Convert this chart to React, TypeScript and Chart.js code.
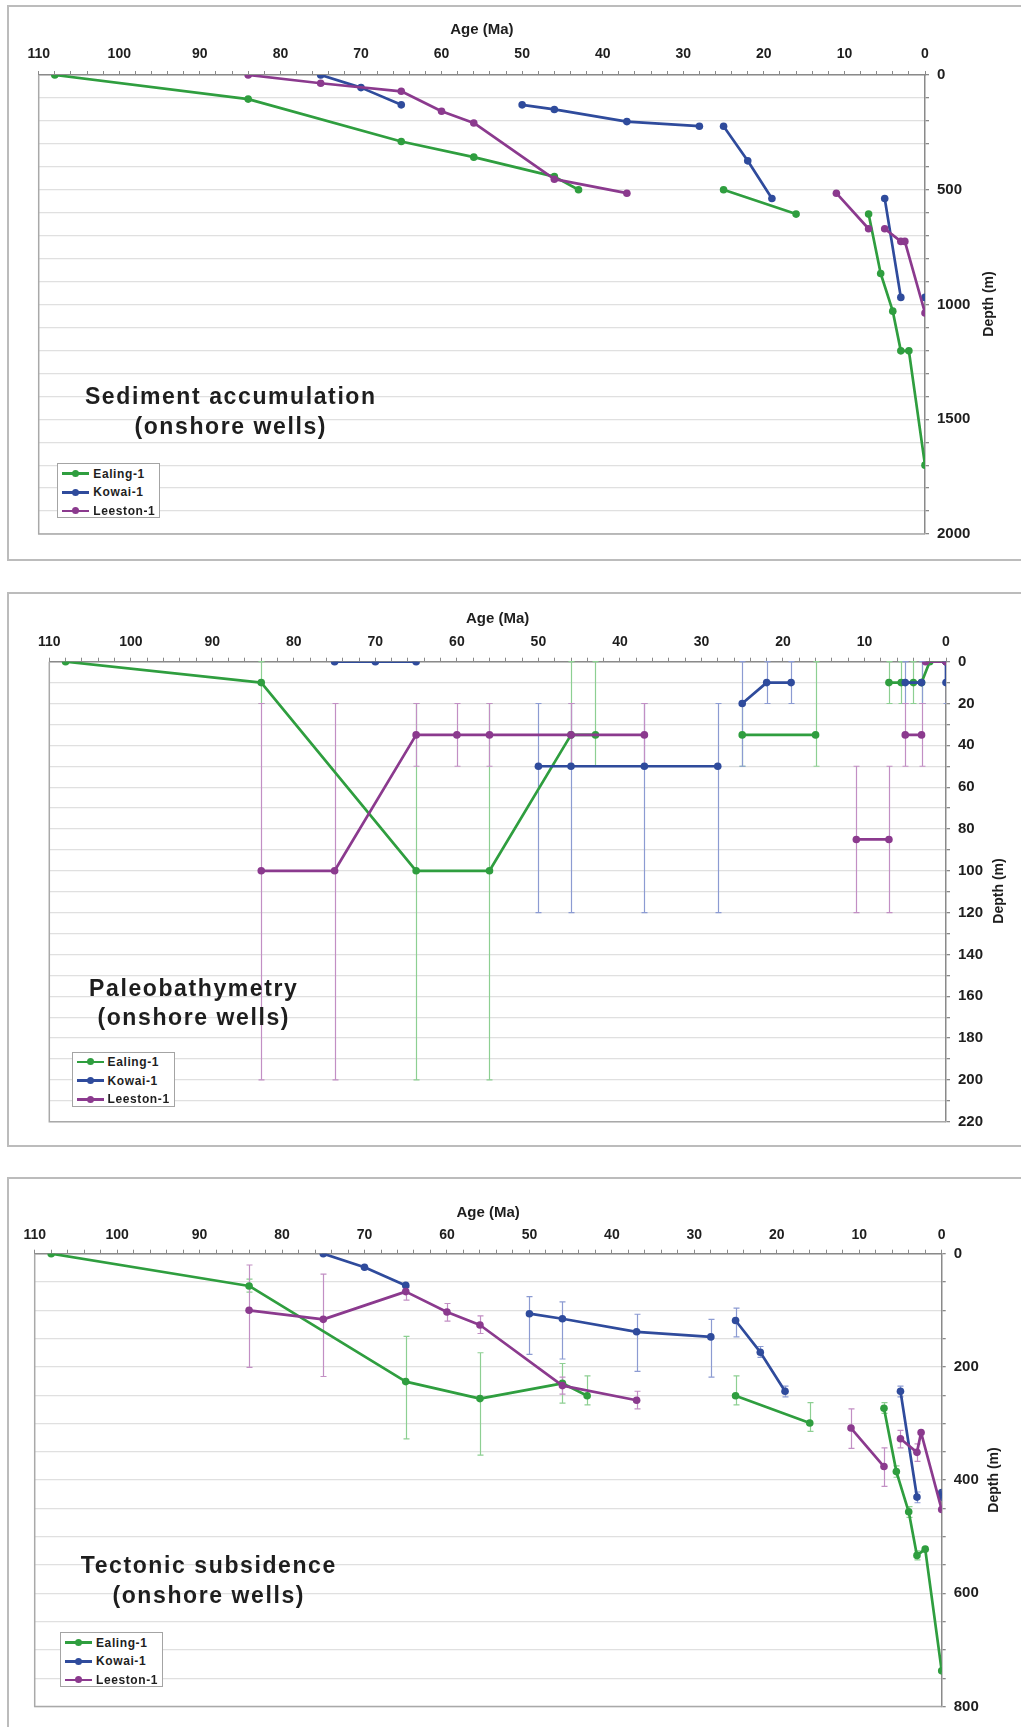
import React, { useEffect, useRef } from "react";
import { Chart, registerables } from "chart.js";

Chart.register(...registerables);

// ---------------- DATA ----------------
const seriesNames = ["Ealing-1", "Kowai-1", "Leeston-1"];

// Sediment accumulation (depth, m)
const sedEalingAge = [108, 84, 65, 56, 46, 43, null, 25, 16, null, 7, 5.5, 4, 3, 2, 0];
const sedEalingDepth = [0, 105, 290, 358, 443, 500, null, 500, 606, null, 606, 865, 1029, 1202, 1202, 1700];
const sedKowaiAge = [75, 70, 65, null, 50, 46, 37, 28, null, 25, 22, 19, null, 5, 3, null, 0];
const sedKowaiDepth = [0, 55, 130, null, 130, 150, 203, 223, null, 223, 374, 538, null, 538, 969, null, 969];
const sedLeestonAge = [84, 75, 65, 60, 56, 46, 37, null, 11, 7, null, 5, 3, 2.5, 0];
const sedLeestonDepth = [0, 36, 71, 158, 209, 454, 515, null, 515, 670, null, 670, 725, 725, 1037];

// Paleobathymetry (depth, m) with ranges
const pbEalingAge = [108, 84, 65, 56, 46, 43, null, 25, 16, null, 7, 5.5, 4, 3, 2, 0];
const pbEalingDepth = [0, 10, 100, 100, 35, 35, null, 35, 35, null, 10, 10, 10, 10, 0, 0];
const pbEalingLow = [null, 0, 20, 20, 0, 0, null, 20, 0, null, 0, 0, 0, 0, null, null];
const pbEalingHigh = [null, 20, 200, 200, 50, 50, null, 50, 50, null, 20, 20, 20, 20, null, null];
const pbKowaiAge = [75, 70, 65, null, 50, 46, 37, 28, null, 25, 22, 19, null, 5, 3, null, 0, 0];
const pbKowaiDepth = [0, 0, 0, null, 50, 50, 50, 50, null, 20, 10, 10, null, 10, 10, null, 0, 10];
const pbKowaiLow = [null, null, null, null, 20, 20, 20, 20, null, 0, 0, 0, null, 0, 0, null, null, 0];
const pbKowaiHigh = [null, null, null, null, 120, 120, 120, 120, null, 50, 20, 20, null, 20, 20, null, null, 20];
const pbLeestonAge = [84, 75, 65, 60, 56, 46, 37, null, 11, 7, null, 5, 3, null, 2.5, 0];
const pbLeestonDepth = [100, 100, 35, 35, 35, 35, 35, null, 85, 85, null, 35, 35, null, 0, 0];
const pbLeestonLow = [20, 20, 20, 20, 20, 20, 20, null, 50, 50, null, 20, 20, null, null, null];
const pbLeestonHigh = [200, 200, 50, 50, 50, 50, 50, null, 120, 120, null, 50, 50, null, null, null];

// Tectonic subsidence (depth, m) with ranges
const tsEalingAge = [108, 84, 65, 56, 46, 43, null, 25, 16, null, 7, 5.5, 4, 3, 2, 0];
const tsEalingDepth = [0, 57, 226, 256, 229, 251, null, 251, 299, null, 273, 385, 456, 533, 522, 737];
const tsEalingLow = [null, 45, 146, 175, 194, 216, null, 216, 263, null, 263, 375, 447, 525, null, null];
const tsEalingHigh = [null, 68, 327, 356, 264, 267, null, 267, 314, null, 282, 395, 466, 541, null, null];
const tsKowaiAge = [75, 70, 65, null, 50, 46, 37, 28, null, 25, 22, 19, null, 5, 3, null, 0, 0];
const tsKowaiDepth = [0, 24, 56, null, 106, 115, 138, 147, null, 118, 174, 243, null, 243, 430, null, 422, 430];
const tsKowaiLow = [null, null, null, null, 76, 85, 107, 116, null, 96, 164, 234, null, 234, 421, null, null, null];
const tsKowaiHigh = [null, null, null, null, 178, 186, 208, 218, null, 147, 183, 253, null, 253, 440, null, null, null];
const tsLeestonAge = [84, 75, 65, 60, 56, 46, 37, null, 11, 7, null, 5, 3, 2.5, 0];
const tsLeestonDepth = [100, 116, 67, 103, 126, 233, 259, null, 308, 376, null, 327, 351, 316, 452];
const tsLeestonLow = [20, 36, 59, 88, 110, 218, 243, null, 274, 343, null, 312, 336, null, null];
const tsLeestonHigh = [201, 217, 82, 119, 141, 248, 274, null, 344, 411, null, 343, 367, null, null];

const panelTitles = [
  ["Sediment accumulation", "(onshore wells)"],
  ["Paleobathymetry", "(onshore wells)"],
  ["Tectonic subsidence", "(onshore wells)"],
];
const xAxisTitle = "Age (Ma)";
const yAxisTitle = "Depth (m)";

// ---------------- STYLE ----------------
const FONT = '"Liberation Sans", Arial, Helvetica, sans-serif';
const COLORS = ["#2f9e3f", "#2f4b9c", "#8b3a8e"];
const ERR_COLORS = ["#8dcf92", "#8c9bd2", "#c28fc4"];
const TEXT = "#1e1e1e";

const zip = (a: (number | null)[], d: (number | null)[]) =>
  a.map((x, i) => ({ x: x, y: d[i] }));

const framePlugin = {
  id: "frame",
  beforeDatasetsDraw(chart: any) {
    const { ctx, chartArea } = chart;
    const { left, top, right, bottom } = chartArea;
    ctx.save();
    ctx.strokeStyle = "#a9a9a9";
    ctx.lineWidth = 1.5;
    ctx.beginPath();
    ctx.moveTo(left, top);
    ctx.lineTo(left, bottom);
    ctx.lineTo(right, bottom);
    ctx.stroke();
    ctx.restore();
  },
};

const errorBarPlugin = {
  id: "errorBars",
  beforeDatasetsDraw(chart: any) {
    const { ctx, chartArea } = chart;
    const xs = chart.scales.x;
    const ys = chart.scales.y;
    ctx.save();
    ctx.beginPath();
    ctx.rect(chartArea.left, chartArea.top - 2, chartArea.width, chartArea.height + 4);
    ctx.clip();
    const sets = chart.data.datasets.slice().reverse();
    sets.forEach((ds: any) => {
      const lo = ds.errLow;
      const hi = ds.errHigh;
      if (!lo || !hi) return;
      ctx.strokeStyle = ds.errColor;
      ctx.lineWidth = 1.2;
      ds.data.forEach((p: any, j: number) => {
        if (p.y == null || lo[j] == null || hi[j] == null) return;
        const px = Math.round(xs.getPixelForValue(p.x)) + 0.5;
        const y1 = ys.getPixelForValue(lo[j]);
        const y2 = ys.getPixelForValue(hi[j]);
        ctx.beginPath();
        ctx.moveTo(px, y1);
        ctx.lineTo(px, y2);
        ctx.moveTo(px - 3, y1);
        ctx.lineTo(px + 3, y1);
        ctx.moveTo(px - 3, y2);
        ctx.lineTo(px + 3, y2);
        ctx.stroke();
      });
    });
    ctx.restore();
  },
};

type PanelCfg = {
  top: number;
  height: number;
  padding: { left: number; top: number; right: number; bottom: number };
  xH: number;
  yW: number;
  xPad: number;
  titlePad: number;
  yMax: number;
  yStep: number;
  yLabel: number;
  series: any[];
};

const panels: PanelCfg[] = [
  {
    top: 0,
    height: 575,
    padding: { left: 38.7, top: 20, right: 0, bottom: 41 },
    xH: 55,
    yW: 96,
    xPad: 8,
    titlePad: 1,
    yMax: 2000,
    yStep: 100,
    yLabel: 500,
    series: [
      { age: sedEalingAge, depth: sedEalingDepth },
      { age: sedKowaiAge, depth: sedKowaiDepth },
      { age: sedLeestonAge, depth: sedLeestonDepth },
    ],
  },
  {
    top: 580,
    height: 580,
    padding: { left: 49.3, top: 26.7, right: 0, bottom: 38.3 },
    xH: 55,
    yW: 75,
    xPad: 7.6,
    titlePad: 3.6,
    yMax: 220,
    yStep: 10,
    yLabel: 20,
    series: [
      { age: pbEalingAge, depth: pbEalingDepth, low: pbEalingLow, high: pbEalingHigh },
      { age: pbKowaiAge, depth: pbKowaiDepth, low: pbKowaiLow, high: pbKowaiHigh },
      { age: pbLeestonAge, depth: pbLeestonDepth, low: pbLeestonLow, high: pbLeestonHigh },
    ],
  },
  {
    top: 1160,
    height: 567,
    padding: { left: 34.7, top: 38.7, right: 0, bottom: 20.5 },
    xH: 55,
    yW: 79.3,
    xPad: 6,
    titlePad: 4.7,
    yMax: 800,
    yStep: 50,
    yLabel: 200,
    series: [
      { age: tsEalingAge, depth: tsEalingDepth, low: tsEalingLow, high: tsEalingHigh },
      { age: tsKowaiAge, depth: tsKowaiDepth, low: tsKowaiLow, high: tsKowaiHigh },
      { age: tsLeestonAge, depth: tsLeestonDepth, low: tsLeestonLow, high: tsLeestonHigh },
    ],
  },
];

// HTML overlay positions
const boxes = [
  { left: 7, top: 5, height: 556, bottom: true },
  { left: 7, top: 591.7, height: 555, bottom: true },
  { left: 7, top: 1177, height: 600, bottom: false },
];
const titlePos = [
  { cx: 230, top: 382 },
  { cx: 193, top: 973.5 },
  { cx: 208, top: 1551 },
];
const depthTitlePos = [
  { cx: 987.6, cy: 304 },
  { cx: 998, cy: 891 },
  { cx: 993, cy: 1480 },
];
const legendPos = [
  { left: 57.3, top: 463.3 },
  { left: 71.6, top: 1051.6 },
  { left: 60, top: 1632.3 },
];

function makeConfig(cfg: PanelCfg): any {
  const datasets = cfg.series
    .map((s, i) => ({
      label: seriesNames[i],
      data: zip(s.age, s.depth),
      borderColor: COLORS[i],
      backgroundColor: COLORS[i],
      pointBackgroundColor: COLORS[i],
      pointBorderColor: COLORS[i],
      pointBorderWidth: 0,
      pointRadius: 3.8,
      borderWidth: 2.7,
      borderCapStyle: "round",
      borderJoinStyle: "round",
      spanGaps: false,
      tension: 0,
      errLow: s.low,
      errHigh: s.high,
      errColor: ERR_COLORS[i],
    }))
    .reverse(); // first dataset drawn on top -> Leeston on top
  return {
    type: "line",
    data: { datasets },
    options: {
      animation: false,
      responsive: false,
      maintainAspectRatio: false,
      events: [],
      layout: { padding: cfg.padding },
      plugins: { legend: { display: false }, tooltip: { enabled: false } },
      scales: {
        x: {
          type: "linear",
          position: "top",
          reverse: true,
          min: 0,
          max: 110,
          afterFit: (s: any) => {
            s.height = cfg.xH;
          },
          grid: {
            drawOnChartArea: false,
            drawTicks: true,
            tickLength: 4,
            tickColor: "#8a8a8a",
            lineWidth: 1,
          },
          border: { display: true, color: "#8a8a8a", width: 1.5 },
          ticks: {
            stepSize: 2,
            autoSkip: false,
            maxRotation: 0,
            padding: cfg.xPad,
            color: TEXT,
            font: { size: 14, weight: "bold", family: FONT },
            callback: (v: any) => (Math.round(v) % 10 === 0 ? String(Math.round(v)) : ""),
          },
          title: {
            display: true,
            text: xAxisTitle,
            color: TEXT,
            font: { size: 15, weight: "bold", family: FONT },
            padding: { top: cfg.titlePad, bottom: 0 },
          },
        },
        y: {
          type: "linear",
          position: "right",
          reverse: true,
          min: 0,
          max: cfg.yMax,
          afterFit: (s: any) => {
            s.width = cfg.yW;
          },
          grid: {
            color: "#e0e0e0",
            lineWidth: 1.3,
            drawTicks: true,
            tickLength: 4,
            tickColor: "#8a8a8a",
          },
          border: { display: true, color: "#8a8a8a", width: 1.5 },
          ticks: {
            stepSize: cfg.yStep,
            autoSkip: false,
            padding: 8,
            color: TEXT,
            font: { size: 15, weight: "bold", family: FONT },
            callback: (v: any) =>
              Math.round(v) % cfg.yLabel === 0 ? String(Math.round(v)) : "",
          },
        },
      },
    },
    plugins: [framePlugin, errorBarPlugin],
  };
}

function Legend({ left, top }: { left: number; top: number }) {
  return (
    <div
      style={{
        position: "absolute",
        left,
        top,
        width: 103,
        height: 55,
        border: "1px solid #a4a4a4",
        background: "#fff",
        boxSizing: "border-box",
      }}
    >
      {seriesNames.map((n, i) => (
        <div key={n} style={{ position: "absolute", left: 0, top: 9.4 + i * 18.65 - 9, height: 18, width: 103 }}>
          <div
            style={{
              position: "absolute",
              left: 4,
              top: 7.7,
              width: 27,
              height: 2.6,
              background: COLORS[i],
            }}
          />
          <div
            style={{
              position: "absolute",
              left: 14,
              top: 5.5,
              width: 7,
              height: 7,
              borderRadius: "50%",
              background: COLORS[i],
            }}
          />
          <div
            style={{
              position: "absolute",
              left: 35,
              top: 0,
              lineHeight: "18px",
              fontFamily: FONT,
              fontWeight: "bold",
              fontSize: 12,
              letterSpacing: 0.6,
              color: TEXT,
              whiteSpace: "nowrap",
            }}
          >
            {n}
          </div>
        </div>
      ))}
    </div>
  );
}

export default function App() {
  const refs = [useRef<HTMLCanvasElement>(null), useRef<HTMLCanvasElement>(null), useRef<HTMLCanvasElement>(null)];

  useEffect(() => {
    const charts = panels.map((cfg, i) => new Chart(refs[i].current as HTMLCanvasElement, makeConfig(cfg)));
    return () => charts.forEach((c) => c.destroy());
  }, []);

  return (
    <div
      style={{
        position: "absolute",
        left: 0,
        top: 0,
        width: 1021,
        height: 1727,
        overflow: "hidden",
        background: "#fff",
      }}
    >
      {boxes.map((b, i) => (
        <div
          key={"box" + i}
          style={{
            position: "absolute",
            left: b.left,
            top: b.top,
            width: 1100,
            height: b.height,
            borderLeft: "2px solid #bcbcbc",
            borderTop: "2px solid #bcbcbc",
            borderBottom: b.bottom ? "2px solid #bcbcbc" : "none",
            boxSizing: "border-box",
          }}
        />
      ))}
      {panels.map((cfg, i) => (
        <canvas
          key={"c" + i}
          ref={refs[i]}
          width={1021}
          height={cfg.height}
          style={{ position: "absolute", left: 0, top: cfg.top, width: 1021, height: cfg.height }}
        />
      ))}
      {panelTitles.map((t, i) => (
        <div
          key={"t" + i}
          style={{
            position: "absolute",
            left: titlePos[i].cx - 200,
            top: titlePos[i].top,
            width: 400,
            textAlign: "center",
            fontFamily: FONT,
            fontWeight: "bold",
            fontSize: 23,
            letterSpacing: 1.6,
            lineHeight: "29.5px",
            color: TEXT,
            paddingLeft: 1.6,
            boxSizing: "border-box",
          }}
        >
          <div>{t[0]}</div>
          <div>{t[1]}</div>
        </div>
      ))}
      {depthTitlePos.map((p, i) => (
        <div
          key={"d" + i}
          style={{
            position: "absolute",
            left: p.cx - 50,
            top: p.cy - 10,
            width: 100,
            height: 20,
            lineHeight: "20px",
            textAlign: "center",
            transform: "rotate(-90deg)",
            fontFamily: FONT,
            fontWeight: "bold",
            fontSize: 14,
            color: TEXT,
          }}
        >
          {yAxisTitle}
        </div>
      ))}
      {legendPos.map((p, i) => (
        <Legend key={"l" + i} left={p.left} top={p.top} />
      ))}
    </div>
  );
}
